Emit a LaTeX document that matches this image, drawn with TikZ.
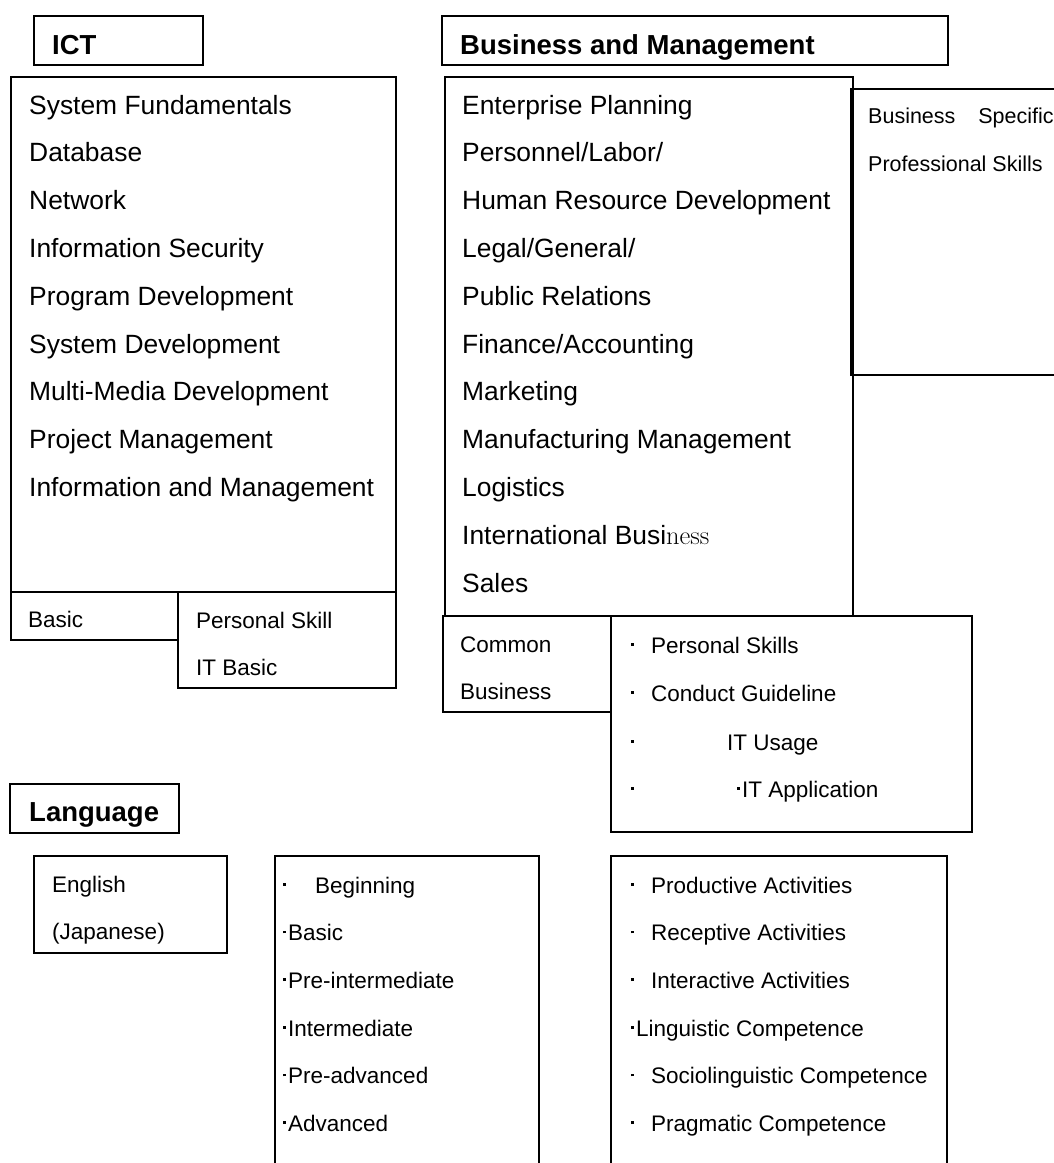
\documentclass[tikz,border=0pt]{standalone}
\usepackage{fontspec}
\newfontfamily\arial{Liberation Sans}
\newcommand\mdot{\hbox to 7pt{\hss\raisebox{7.4pt}{\rule{2.8pt}{2.8pt}}\hss}}
\newcommand\bul[1]{\makebox[#1][l]{\mdot}}
\tikzset{
  frame/.style  = { rectangle, draw=black, line width=1.5pt, anchor=north west,
                    inner sep=0pt, outer sep=0pt },
  head/.style   = { anchor=base west, inner sep=0pt,
                    font=\arial\bfseries\fontsize{27.5pt}{30pt}\selectfont },
  entry/.style  = { anchor=base west, inner sep=0pt,
                    font=\arial\fontsize{26.4pt}{30pt}\selectfont },
  note/.style   = { anchor=base west, inner sep=0pt,
                    font=\arial\fontsize{22.5pt}{26pt}\selectfont },
}
\begin{document}
\begin{tikzpicture}[x=1pt, y=-1pt]
  \useasboundingbox (0,0) rectangle (1054,1163);

  % ICT
  \node (icttitle) [frame, minimum width=169pt, minimum height=49pt] at (34,16)  {};
  \node (ictmain)  [frame, minimum width=385pt, minimum height=515pt] at (11,77) {};
  \node (ictbasic) [frame, minimum width=167pt, minimum height=48pt] at (11,592) {};
  \node (ictskill) [frame, minimum width=218pt, minimum height=96pt] at (178,592) {};
  \node (icthead)  [head] at (52,54) {ICT};
  \foreach \name [count=\i from 0] in {System Fundamentals, Database, Network,
      Information Security, Program Development, System Development,
      Multi-Media Development, Project Management, Information and Management}
    \node (ict\i) [entry] at (29,{114+47.8*\i}) {\name};
  \node (basic)    [note] at (28,627)  {Basic};
  \node (perskill) [note] at (196,628) {Personal Skill};
  \node (itbasic)  [note] at (196,675) {IT Basic};

  % Business and Management
  \node (bmtitle)  [frame, minimum width=506pt, minimum height=49pt] at (442,16)  {};
  \node (bmmain)   [frame, minimum width=408pt, minimum height=539pt] at (445,77) {};
  \node (bmspec)   [frame, minimum width=240pt, minimum height=286pt] at (851,89) {};
  \node (bmcommon) [frame, minimum width=168pt, minimum height=96pt] at (443,616) {};
  \node (bmskill)  [frame, minimum width=361pt, minimum height=216pt] at (611,616) {};
  \node (bmhead)   [head] at (460,54) {Business and Management};
  \foreach \name [count=\i from 0] in {Enterprise Planning, Personnel/Labor/,
      Human Resource Development, Legal/General/, Public Relations,
      Finance/Accounting, Marketing, Manufacturing Management, Logistics,
      {International Busi{\rmfamily ness}}, Sales}
    \node (bm\i) [entry] at (462,{114+47.8*\i}) {\name};
  \node (spec1)   [note, font=\arial\fontsize{21.5pt}{26pt}\selectfont] at (868,123)
                  {Business\hspace{17pt} Specific};
  \node (spec2)   [note, font=\arial\fontsize{21.5pt}{26pt}\selectfont] at (868,171)
                  {Professional Skills};
  \node (common1) [note] at (460,652) {Common};
  \node (common2) [note] at (460,699) {Business};
  \node (skill1)  [note] at (629,653) {\bul{22pt}Personal Skills};
  \node (skill2)  [note] at (629,701) {\bul{22pt}Conduct Guideline};
  \node (skill3)  [note] at (629,750) {\bul{98pt}IT Usage};
  \node (skill4)  [note] at (629,797) {\bul{106pt}\mdot IT Application};

  % Language
  \node (langtitle) [frame, minimum width=169pt, minimum height=49pt] at (10,784)   {};
  \node (langname)  [frame, minimum width=193pt, minimum height=97pt] at (34,856)   {};
  \node (langlevel) [frame, minimum width=264pt, minimum height=340pt] at (275,856) {};
  \node (langskill) [frame, minimum width=336pt, minimum height=340pt] at (611,856) {};
  \node (langhead)  [head] at (29,821) {Language};
  \node (english)   [note] at (52,892) {English};
  \node (japanese)  [note] at (52,939) {(Japanese)};
  \foreach \name [count=\i from 0] in {\bul{34pt}Beginning, \mdot Basic,
      \mdot Pre-intermediate, \mdot Intermediate, \mdot Pre-advanced, \mdot Advanced}
    \node (level\i) [note] at (281,{893+47.7*\i}) {\name};
  \foreach \name [count=\i from 0] in {\bul{22pt}Productive Activities,
      \bul{22pt}Receptive Activities, \bul{22pt}Interactive Activities,
      \mdot Linguistic Competence, \bul{22pt}Sociolinguistic Competence,
      \bul{22pt}Pragmatic Competence}
    \node (comp\i) [note] at (629,{893+47.7*\i}) {\name};
\end{tikzpicture}
\end{document}
